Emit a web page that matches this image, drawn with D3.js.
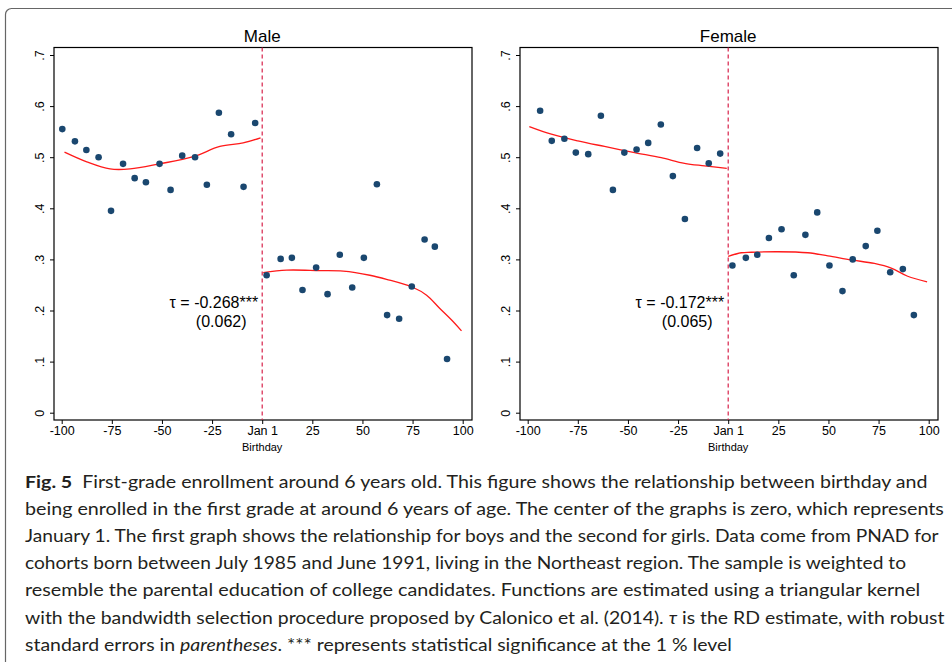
<!DOCTYPE html>
<html>
<head>
<meta charset="utf-8">
<script src="https://cdn.jsdelivr.net/npm/d3@7"></script>
<style>
  body { margin: 0; background: #fff; }
  svg { display: block; }
</style>
</head>
<body>
<svg id="fig" width="952" height="662"></svg>
<script>
// binned means, days relative to Jan 1
const maleLeftX = [-99.7, -93.4, -87.7, -81.6, -75.4, -69.4, -63.6, -58, -51.2, -45.7, -39.9, -33.5, -27.6, -21.6, -15.5, -9.3, -3.5];
const maleLeftY = [0.555, 0.531, 0.514, 0.500, 0.395, 0.487, 0.459, 0.451, 0.487, 0.436, 0.503, 0.500, 0.446, 0.587, 0.545, 0.442, 0.567];
const maleRightX = [2.2, 9.2, 14.8, 20.1, 26.9, 32.6, 38.7, 44.9, 50.7, 57.2, 62.3, 68.3, 74.6, 81, 86.1, 92.2];
const maleRightY = [0.269, 0.301, 0.303, 0.240, 0.284, 0.232, 0.309, 0.245, 0.303, 0.447, 0.191, 0.184, 0.247, 0.339, 0.325, 0.105];

const maleFitLX = [-98.6, -87.5, -75.9, -65.9, -51.2, -34.4, -21.1, -9.5, -0.8];
const maleFitLY = [0.510, 0.491, 0.477, 0.477, 0.487, 0.501, 0.521, 0.528, 0.538];
const maleFitRX = [0.5, 12.2, 28.8, 40.4, 53.7, 62.0, 75.3, 82, 88.6, 95.3, 99.4];
const maleFitRY = [0.274, 0.279, 0.278, 0.277, 0.269, 0.261, 0.245, 0.230, 0.204, 0.178, 0.160];

const femaleLeftX = [-93.8, -88.0, -81.7, -76.0, -69.8, -63.5, -57.5, -51.8, -45.7, -39.9, -33.6, -27.6, -21.6, -15.5, -9.7, -4.0];
const femaleLeftY = [0.591, 0.532, 0.536, 0.509, 0.506, 0.581, 0.436, 0.509, 0.515, 0.528, 0.564, 0.463, 0.379, 0.518, 0.488, 0.507];
const femaleRightX = [2.1, 8.8, 14.5, 20.3, 26.6, 32.7, 38.5, 44.4, 50.5, 57, 62.1, 68.6, 74.4, 80.8, 87.1, 92.6];
const femaleRightY = [0.288, 0.303, 0.309, 0.342, 0.359, 0.269, 0.348, 0.392, 0.288, 0.238, 0.300, 0.326, 0.356, 0.275, 0.281, 0.191];

const femaleFitLX = [-99.2, -88.2, -75, -61.7, -46.7, -33.4, -21.8, -11.8, -0.7];
const femaleFitLY = [0.560, 0.545, 0.532, 0.521, 0.509, 0.499, 0.488, 0.483, 0.478];
const femaleFitRX = [0, 6.5, 11.5, 24.7, 39.7, 49.7, 61.3, 72.9, 81.3, 89.5, 99.2];
const femaleFitRY = [0.306, 0.313, 0.314, 0.315, 0.313, 0.307, 0.299, 0.292, 0.283, 0.267, 0.256];

const xTicks = [-100, -75, -50, -25, 0, 25, 50, 75, 100];
const xTickLabels = ["-100", "-75", "-50", "-25", "Jan 1", "25", "50", "75", "100"];
const yTicks = [0, 0.1, 0.2, 0.3, 0.4, 0.5, 0.6, 0.7];
const yTickLabels = ["0", ".1", ".2", ".3", ".4", ".5", ".6", ".7"];

const panels = [
  { title: "Male", left: 54, xl: [maleLeftX, maleLeftY], xr: [maleRightX, maleRightY],
    fl: [maleFitLX, maleFitLY], fr: [maleFitRX, maleFitRY], tau: "τ = -0.268***", se: "(0.062)" },
  { title: "Female", left: 520, xl: [femaleLeftX, femaleLeftY], xr: [femaleRightX, femaleRightY],
    fl: [femaleFitLX, femaleFitLY], fr: [femaleFitRX, femaleFitRY], tau: "τ = -0.172***", se: "(0.065)" }
];

const svg = d3.select("#fig");
const font = "'Liberation Sans', Arial, sans-serif";
const navy = "#1a476f";

// outer box of the figure
svg.append("rect")
  .attr("x", 5.5).attr("y", 8.5)
  .attr("width", 1000).attr("height", 700)
  .attr("rx", 6)
  .attr("fill", "none")
  .attr("stroke", "#666")
  .attr("stroke-width", 1.2);

const frameW = 418, frameTop = 47.5, frameBottom = 420;

const yScale = d3.scaleLinear().domain([0, 0.7]).range([412.7, 55]);

panels.forEach((p) => {
  const xScale = d3.scaleLinear().domain([-100, 100]).range([p.left + 7.7, p.left + 408.7]);
  const g = svg.append("g");

  g.append("rect")
    .attr("x", p.left).attr("y", frameTop)
    .attr("width", frameW).attr("height", frameBottom - frameTop)
    .attr("fill", "#fff").attr("stroke", "#000").attr("stroke-width", 1.2);

  g.append("text")
    .attr("x", xScale(0)).attr("y", 42)
    .attr("text-anchor", "middle")
    .attr("font-family", font).attr("font-size", 17)
    .text(p.title);

  // y axis
  const yAxis = d3.axisLeft(yScale)
    .tickValues(yTicks)
    .tickFormat((d, i) => yTickLabels[i])
    .tickSize(4).tickSizeOuter(0);
  const ya = g.append("g").attr("transform", `translate(${p.left},0)`).call(yAxis);
  ya.select(".domain").remove();
  ya.selectAll(".tick line").attr("stroke", "#000");
  ya.selectAll(".tick text")
    .attr("font-family", font).attr("font-size", 12.5).attr("fill", "#000")
    .attr("x", 0).attr("dy", 0)
    .attr("text-anchor", "middle")
    .attr("transform", `translate(-10,0) rotate(-90)`);

  // x axis
  const xAxis = d3.axisBottom(xScale)
    .tickValues(xTicks)
    .tickFormat((d, i) => xTickLabels[i])
    .tickSize(4).tickSizeOuter(0);
  const xa = g.append("g").attr("transform", `translate(0,${frameBottom})`).call(xAxis);
  xa.select(".domain").remove();
  xa.selectAll(".tick line").attr("stroke", "#000");
  xa.selectAll(".tick text")
    .attr("font-family", font).attr("font-size", 12.5).attr("fill", "#000")
    .attr("y", 6);

  g.append("text")
    .attr("x", xScale(0)).attr("y", 451)
    .attr("text-anchor", "middle")
    .attr("font-family", font).attr("font-size", 11)
    .text("Birthday");

  // cutoff
  g.append("line")
    .attr("x1", xScale(0)).attr("x2", xScale(0))
    .attr("y1", frameTop).attr("y2", frameBottom)
    .attr("stroke", "#d8224a").attr("stroke-width", 1.2)
    .attr("stroke-dasharray", "4,3");

  const line = d3.line()
    .x((d) => xScale(d[0]))
    .y((d) => yScale(d[1]))
    .curve(d3.curveCatmullRom);

  [p.fl, p.fr].forEach((f) => {
    g.append("path")
      .datum(d3.zip(f[0], f[1]))
      .attr("d", line)
      .attr("fill", "none")
      .attr("stroke", "#ff1a1a")
      .attr("stroke-width", 1.3);
  });

  [p.xl, p.xr].forEach((s) => {
    g.selectAll(null)
      .data(d3.zip(s[0], s[1]))
      .enter().append("circle")
      .attr("cx", (d) => xScale(d[0]))
      .attr("cy", (d) => yScale(d[1]))
      .attr("r", 3.3)
      .attr("fill", navy);
  });

  g.append("text")
    .attr("x", xScale(0) - 4).attr("y", 308)
    .attr("text-anchor", "end")
    .attr("font-family", font).attr("font-size", 16)
    .text(p.tau);
  g.append("text")
    .attr("x", xScale(0) - 41).attr("y", 327)
    .attr("text-anchor", "middle")
    .attr("font-family", font).attr("font-size", 16)
    .text(p.se);
});

// caption, each line squeezed to the width it has in the print
const capFont = "Lato, 'Open Sans', sans-serif";
const capLines = [
  { w: 903, parts: [["Fig. 5", "bold"], ["  First-grade enrollment around 6 years old. This figure shows the relationship between birthday and", ""]] },
  { w: 920, parts: [["being enrolled in the first grade at around 6 years of age. The center of the graphs is zero, which represents", ""]] },
  { w: 914, parts: [["January 1. The first graph shows the relationship for boys and the second for girls. Data come from PNAD for", ""]] },
  { w: 882, parts: [["cohorts born between July 1985 and June 1991, living in the Northeast region. The sample is weighted to", ""]] },
  { w: 896, parts: [["resemble the parental education of college candidates. Functions are estimated using a triangular kernel", ""]] },
  { w: 920, parts: [["with the bandwidth selection procedure proposed by Calonico et al. (2014). ", ""], ["τ", "italic"], [" is the RD estimate, with robust", ""]] },
  { w: 707, parts: [["standard errors in ", ""], ["parentheses", "italic"], [". *** represents statistical significance at the 1 % level", ""]] }
];

capLines.forEach((l, i) => {
  const t = svg.append("text")
    .attr("font-family", capFont).attr("font-size", 17.5)
    .attr("fill", "#231f20")
    .attr("xml:space", "preserve")
    .style("white-space", "pre");
  l.parts.forEach(([s, st]) => {
    t.append("tspan")
      .attr("font-weight", st === "bold" ? 700 : 400)
      .attr("font-style", st === "italic" ? "italic" : "normal")
      .text(s);
  });
  const w = t.node().getComputedTextLength();
  const y = 487.5 + i * 27.2;
  t.attr("transform", `translate(25,${y}) scale(${l.w / w},1)`);
});
</script>
</body>
</html>
